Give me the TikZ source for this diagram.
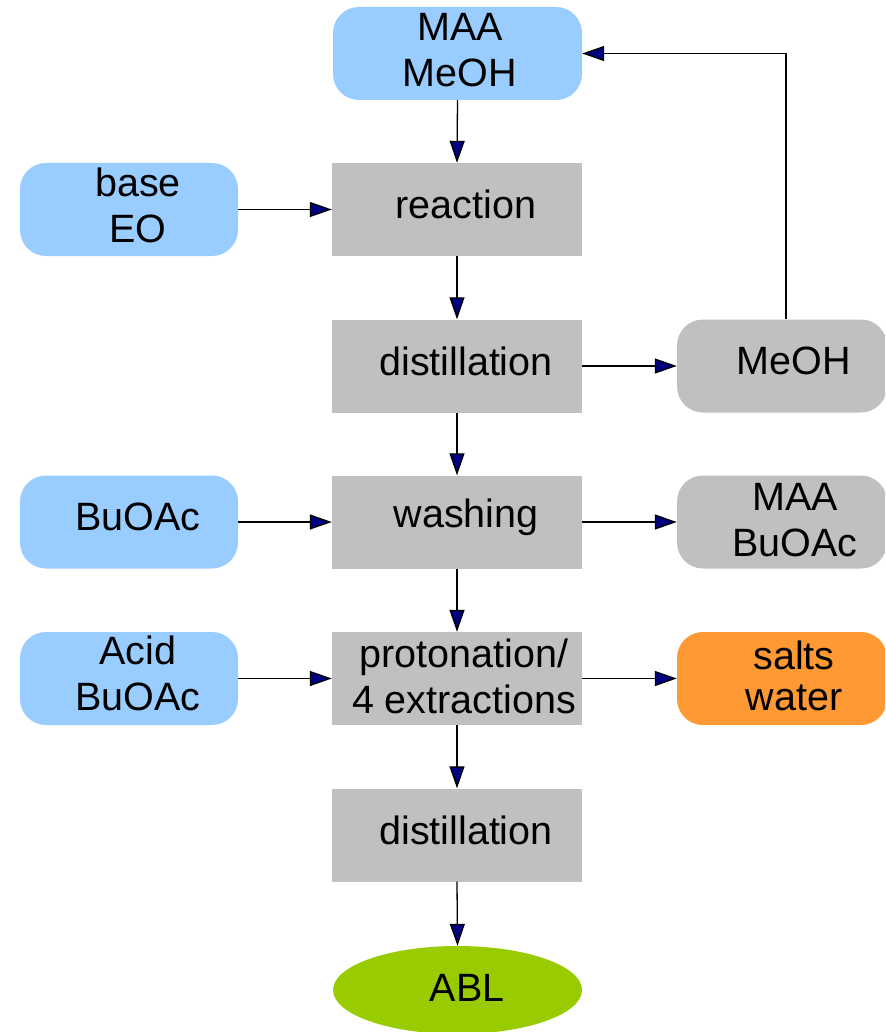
\documentclass[tikz,border=0pt]{standalone}
\usepackage{fontspec}
\setmainfont{Liberation Sans}
\usetikzlibrary{arrows.meta,shapes.geometric}
\definecolor{inblue}{HTML}{99CCFF}
\definecolor{procgray}{HTML}{C0C0C0}
\definecolor{outorange}{HTML}{FF9933}
\definecolor{prodgreen}{HTML}{99CC00}
\definecolor{tipnavy}{HTML}{000080}
\begin{document}
\begin{tikzpicture}[x=1pt,y=-1pt,
  proc/.style={fill=procgray,minimum width=250pt,minimum height=93pt,inner sep=0pt},
  inbox/.style={fill=inblue,rounded corners=26pt,minimum width=218pt,minimum height=93pt,inner sep=0pt},
  outbox/.style={fill=procgray,rounded corners=26pt,minimum width=210pt,minimum height=93pt,inner sep=0pt},
  txt/.style={font=\fontsize{39.5}{46}\selectfont,align=center,inner sep=0pt},
  arr/.style={draw=black,line width=1.3pt,-{Triangle[length=22pt,width=15pt,fill=tipnavy]}}]
\useasboundingbox (0,0) rectangle (885,1032);
\clip (0,0) rectangle (885,1032);
% top input
\node[inbox,minimum width=249pt] (maa) at (457.5,53.5) {};
\node[txt] (maa-t) at (460,50) {MAA\\MeOH};
% process column
\node[proc] (react) at (457,209.5) {};
\node[txt] (react-t) at (466,204) {reaction};
\node[proc] (dist1) at (457,366) {};
\node[txt] (dist1-t) at (466,361) {distillation};
\node[proc] (wash) at (457,522) {};
\node[txt] (wash-t) at (466,517) {washing};
\node[proc] (prot) at (457,678.5) {};
\node[txt] (prot-t) at (464,676) {protonation/\\4 extractions};
\node[proc] (dist2) at (457,835) {};
\node[txt] (dist2-t) at (466,830) {distillation};
\node[ellipse,fill=prodgreen,minimum width=249pt,minimum height=88pt,inner sep=0pt] (abl) at (457.5,990) {};
\node[txt] (abl-t) at (467,988) {ABL};
% left inputs
\node[inbox] (base) at (129,209.5) {};
\node[txt] (base-t) at (138,205) {base\\EO};
\node[inbox] (buoac) at (129,522) {};
\node[txt] (buoac-t) at (138,517) {BuOAc};
\node[inbox] (acid) at (129,678.5) {};
\node[txt] (acid-t) at (138,673) {Acid\\BuOAc};
% right outputs
\node[outbox] (meoh) at (782,366) {};
\node[txt] (meoh-t) at (794,361) {MeOH};
\node[outbox] (maab) at (782,522) {};
\node[txt] (maab-t) at (795,520) {MAA\\BuOAc};
\node[outbox,fill=outorange] (salts) at (782,678.5) {};
\node[txt,font=\fontsize{39.5}{41}\selectfont] (salts-t) at (794,676) {salts\\water};
% connectors
\draw[arr] (maa.south) -- (react.north);
\draw[arr] (react.south) -- (dist1.north);
\draw[arr] (dist1.south) -- (wash.north);
\draw[arr] (wash.south) -- (prot.north);
\draw[arr] (prot.south) -- (dist2.north);
\draw[arr] (dist2.south) -- (abl.north);
\draw[arr] (base.east) -- (react.west);
\draw[arr] (buoac.east) -- (wash.west);
\draw[arr] (acid.east) -- (prot.west);
\draw[arr] (dist1.east) -- (meoh.west);
\draw[arr] (wash.east) -- (maab.west);
\draw[arr] (prot.east) -- (salts.west);
\coordinate (fb) at (786,53.5);
\draw[arr] (meoh.north -| fb) -- (fb) -- (maa.east);
\end{tikzpicture}
\end{document}
